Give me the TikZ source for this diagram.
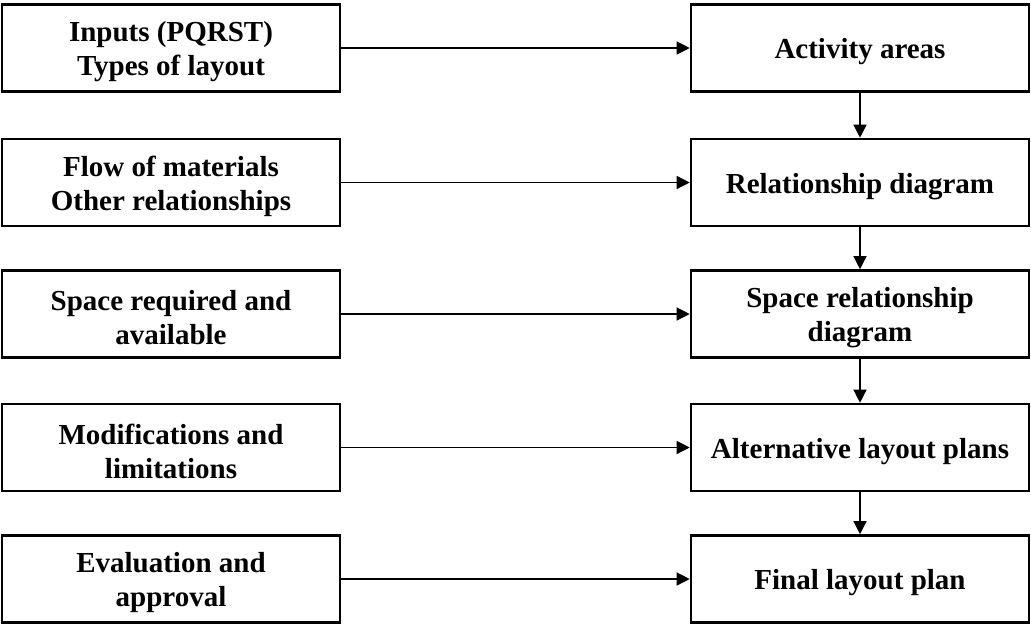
\documentclass[tikz,border=0pt]{standalone}
\usepackage{fontspec}
\setmainfont{Liberation Serif}
\usetikzlibrary{arrows.meta}
\begin{document}
\begin{tikzpicture}[x=1pt,y=-1pt,
  stepbox/.style={draw, line width=2.6pt, minimum width=338pt, minimum height=87pt,
    inner sep=0pt},
  steptext/.style={align=center, yshift=-4pt, inner sep=0pt,
    font=\fontsize{29}{34}\selectfont\bfseries},
  flow/.style={line width=1.3pt, -{Triangle[length=13pt,width=13pt]}}]
\useasboundingbox (0,0) rectangle (1031,625);
% input boxes (left column)
\node[stepbox, label={[steptext]center:{Inputs (PQRST)\\Types of layout}}]     (l1) at (171,48)    {};
\node[stepbox, label={[steptext]center:{Flow of materials\\Other relationships}}] (l2) at (171,182.5) {};
\node[stepbox, label={[steptext]center:{Space required and\\available}}]          (l3) at (171,314)   {};
\node[stepbox, label={[steptext]center:{Modifications and\\limitations}}]         (l4) at (171,447.5) {};
\node[stepbox, label={[steptext]center:{Evaluation and\\approval}}]               (l5) at (171,579)   {};
% planning stages (right column)
\node[stepbox, label={[steptext]center:{Activity areas}}]                  (r1) at (860,48)    {};
\node[stepbox, label={[steptext]center:{Relationship diagram}}]            (r2) at (860,182.5) {};
\node[stepbox, label={[steptext]center:{Space relationship\\diagram}}]     (r3) at (860,314)   {};
\node[stepbox, label={[steptext]center:{Alternative layout plans}}]        (r4) at (860,447.5) {};
\node[stepbox, label={[steptext]center:{Final layout plan}}]               (r5) at (860,579)   {};
% inputs feed each stage
\foreach \i in {1,...,5} \draw[flow] (l\i.east) -- (r\i.west);
% stage sequence
\draw[flow] (r1.south) -- (r2.north);
\draw[flow] (r2.south) -- (r3.north);
\draw[flow] (r3.south) -- (r4.north);
\draw[flow] (r4.south) -- (r5.north);
\end{tikzpicture}
\end{document}
